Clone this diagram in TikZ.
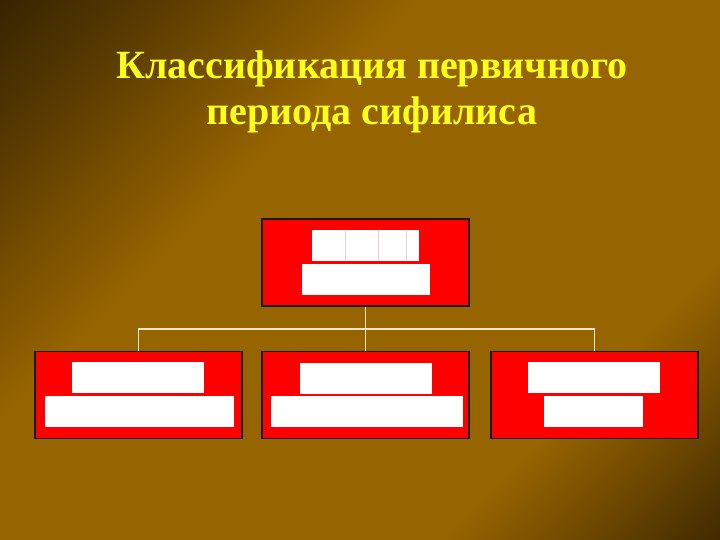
\documentclass[tikz,border=0pt]{standalone}
\usepackage{fontspec}
\setmainfont{Liberation Serif}
\usepackage{tikz}
\usetikzlibrary{positioning}

\definecolor{slidegold}{HTML}{966400}
\definecolor{slidedark}{HTML}{120A00}
\definecolor{titleyellow}{HTML}{FFFF1A}
\definecolor{linktan}{HTML}{F2E6C8}
\definecolor{cellrule}{HTML}{E8D0D0}
\pgfdeclareverticalshading{slidebg}{100bp}{color(0bp)=(slidedark); color(13bp)=(slidedark!70!slidegold); color(30bp)=(slidegold); color(62bp)=(slidegold); color(78bp)=(slidegold!55!black); color(100bp)=(black)}

\begin{document}
\begin{tikzpicture}
[x=1pt,y=-1pt,
 redbox/.style={draw=black!90,fill=red,line width=1.2pt,inner sep=0pt,minimum width=207pt,minimum height=87pt},
 blank/.style={fill=white,inner sep=0pt,minimum height=31pt},
 link/.style={draw=linktan,line width=1.3pt}]
\useasboundingbox (0,0) rectangle (720,540);
\shade[shading=slidebg,shading angle=45] (0,0) rectangle (720,540);

\node[text=titleyellow,font=\bfseries\fontsize{40}{46}\selectfont,align=center] (title) at (372,92) {Классификация первичного\\периода сифилиса};

% boxes
\node[redbox] (top) at (365.5,262.5) {};
\node[redbox] (left) at (138.5,395) {};
\node[redbox] (mid) at (365.5,395) {};
\node[redbox] (right) at (594.5,395) {};

% white fields
\node[blank,minimum width=107pt] (top1) at (365.5,245.5) {};
\node[blank,minimum width=128pt] (top2) at (366,279.5) {};
\node[blank,minimum width=132pt] (left1) at (138,377.5) {};
\node[blank,minimum width=189pt] (left2) at (139.5,411.5) {};
\node[blank,minimum width=132pt] (mid1) at (366,378) {};
\node[blank,minimum width=192pt] (mid2) at (367,411.5) {};
\node[blank,minimum width=132pt] (right1) at (594,377.5) {};
\node[blank,minimum width=99pt] (right2) at (593.5,411.5) {};
\foreach \xc in {345,378,406}
  \draw[cellrule,line width=0.5pt] (\xc,231) -- (\xc,260);

% connectors
\coordinate (fork) at (365.5,329);
\draw [link] (top.south) -- (fork);
\draw [link] (left.north) |- (fork);
\draw [link] (right.north) |- (fork);
\draw [link] (mid.north) -- (fork);
\end{tikzpicture}
\end{document}
